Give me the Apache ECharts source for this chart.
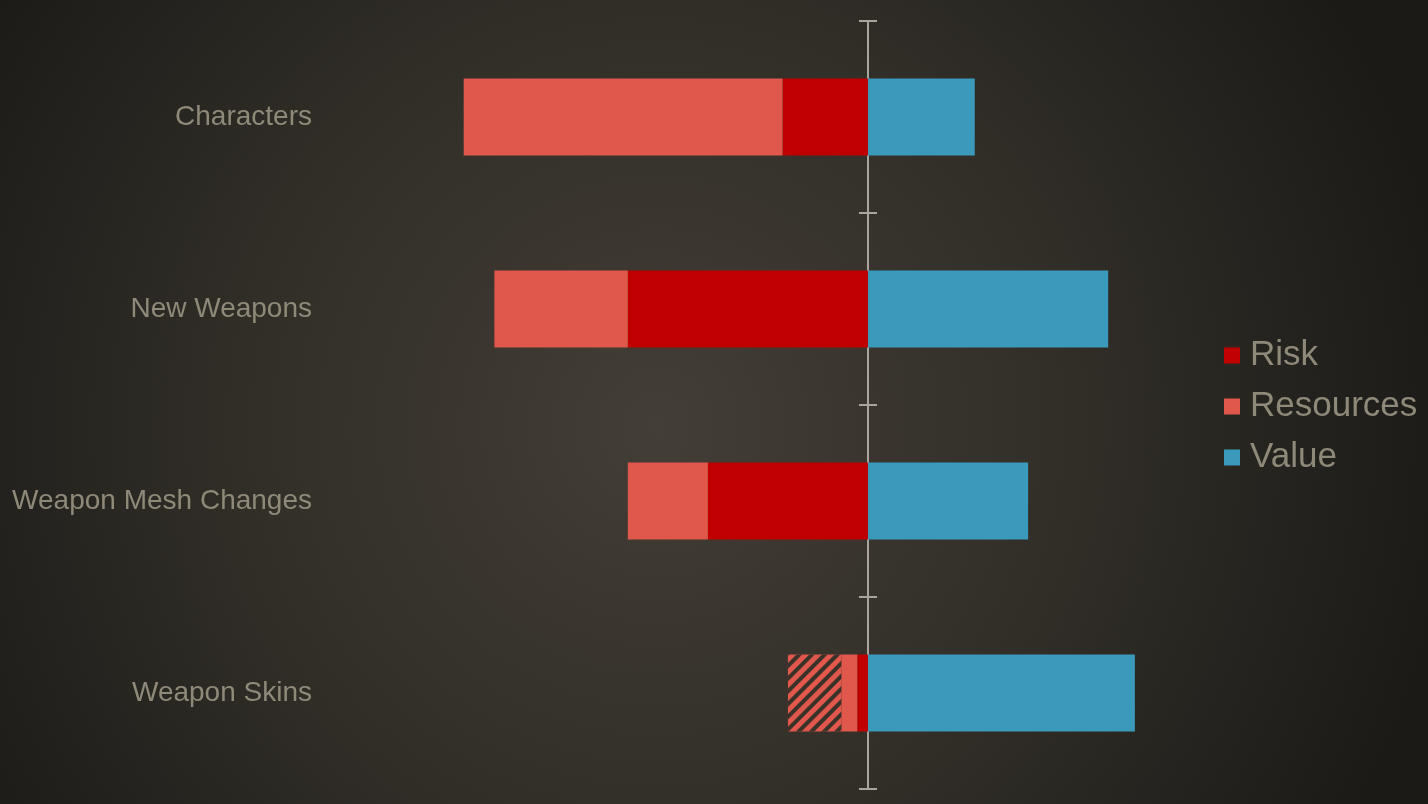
<!DOCTYPE html>
<html>
<head>
<meta charset="utf-8">
<script src="https://cdn.jsdelivr.net/npm/echarts@6/dist/echarts.min.js"></script>
<style>
  html, body { margin: 0; padding: 0; background: #1b1a17; }
  #chart { width: 1428px; height: 804px; }
</style>
</head>
<body>
<div id="chart"></div>
<script>
// Chart data
const categories = ["Characters", "New Weapons", "Weapon Mesh Changes", "Weapon Skins"];
const riskValues = [3.2, 9, 6, 0.4];
const resourceValues = [11.95, 5, 3, 0.6];
const resourceHatchedValues = [0, 0, 0, 2];
const valueValues = [4, 9, 6, 10];

const labelColor = "#8f897a";
const axisColor = "#a9a59c";

let chart = echarts.init(document.getElementById("chart"));

// Negative side grows to the left
const neg = (arr) => arr.map((v) => -v);

let baseSeries = {
  type: "bar",
  stack: "total",
  barWidth: 77,
  yAxisIndex: 0,
  silent: true,
};

let option = {
  animation: false,
  backgroundColor: {
    type: "radial",
    x: 0.46,
    y: 0.53,
    r: 1.0,
    colorStops: [
      { offset: 0, color: "#433e36" },
      { offset: 0.55, color: "#302d27" },
      { offset: 1, color: "#1b1a17" },
    ],
  },
  grid: {
    left: 441,
    width: 854,
    top: 21,
    height: 768,
  },
  legend: {
    orient: "vertical",
    left: 1219,
    top: 333,
    itemWidth: 16,
    itemHeight: 16,
    itemGap: 16,
    icon: "rect",
    data: ["Risk", "Resources", "Value"],
    textStyle: {
      color: labelColor,
      fontSize: 35,
      fontFamily: "Liberation Sans, Arial, sans-serif",
      padding: [0, 0, 0, 5],
    },
  },
  xAxis: {
    type: "value",
    min: -16,
    max: 16,
    show: false,
  },
  yAxis: [
    {
      // labels only
      type: "category",
      data: categories,
      inverse: true,
      position: "left",
      axisLine: { show: false, onZero: false },
      axisTick: { show: false },
      axisLabel: {
        margin: 129,
        color: labelColor,
        fontSize: 28,
        fontFamily: "Liberation Sans, Arial, sans-serif",
      },
    },
    {
      // zero line, ticks to the left
      type: "category",
      data: categories,
      inverse: true,
      position: "left",
      axisLine: {
        show: true,
        onZero: true,
        onZeroAxisIndex: 0,
        lineStyle: { color: axisColor, width: 2 },
      },
      axisTick: { show: true, length: 9, lineStyle: { color: axisColor, width: 2 } },
      axisLabel: { show: false },
    },
    {
      // zero line, ticks to the right
      type: "category",
      data: categories,
      inverse: true,
      position: "right",
      axisLine: {
        show: true,
        onZero: true,
        onZeroAxisIndex: 0,
        lineStyle: { color: axisColor, width: 2 },
      },
      axisTick: { show: true, length: 9, lineStyle: { color: axisColor, width: 2 } },
      axisLabel: { show: false },
    },
  ],
  series: [
    Object.assign({}, baseSeries, {
      name: "Risk",
      data: neg(riskValues),
      itemStyle: { color: "#c00000" },
    }),
    Object.assign({}, baseSeries, {
      name: "Resources",
      data: neg(resourceValues),
      itemStyle: { color: "#e0574b" },
    }),
    Object.assign({}, baseSeries, {
      name: "Resources (estimate)",
      data: neg(resourceHatchedValues),
      itemStyle: {
        color: "#e0574b",
        decal: {
          symbol: "rect",
          symbolSize: 1,
          color: "#3a3129",
          dashArrayX: [1, 0],
          dashArrayY: [3.5, 5],
          rotation: -Math.PI / 4,
        },
      },
    }),
    Object.assign({}, baseSeries, {
      name: "Value",
      data: valueValues,
      itemStyle: { color: "#3b99bb" },
    }),
  ],
};

chart.setOption(option);
</script>
</body>
</html>
